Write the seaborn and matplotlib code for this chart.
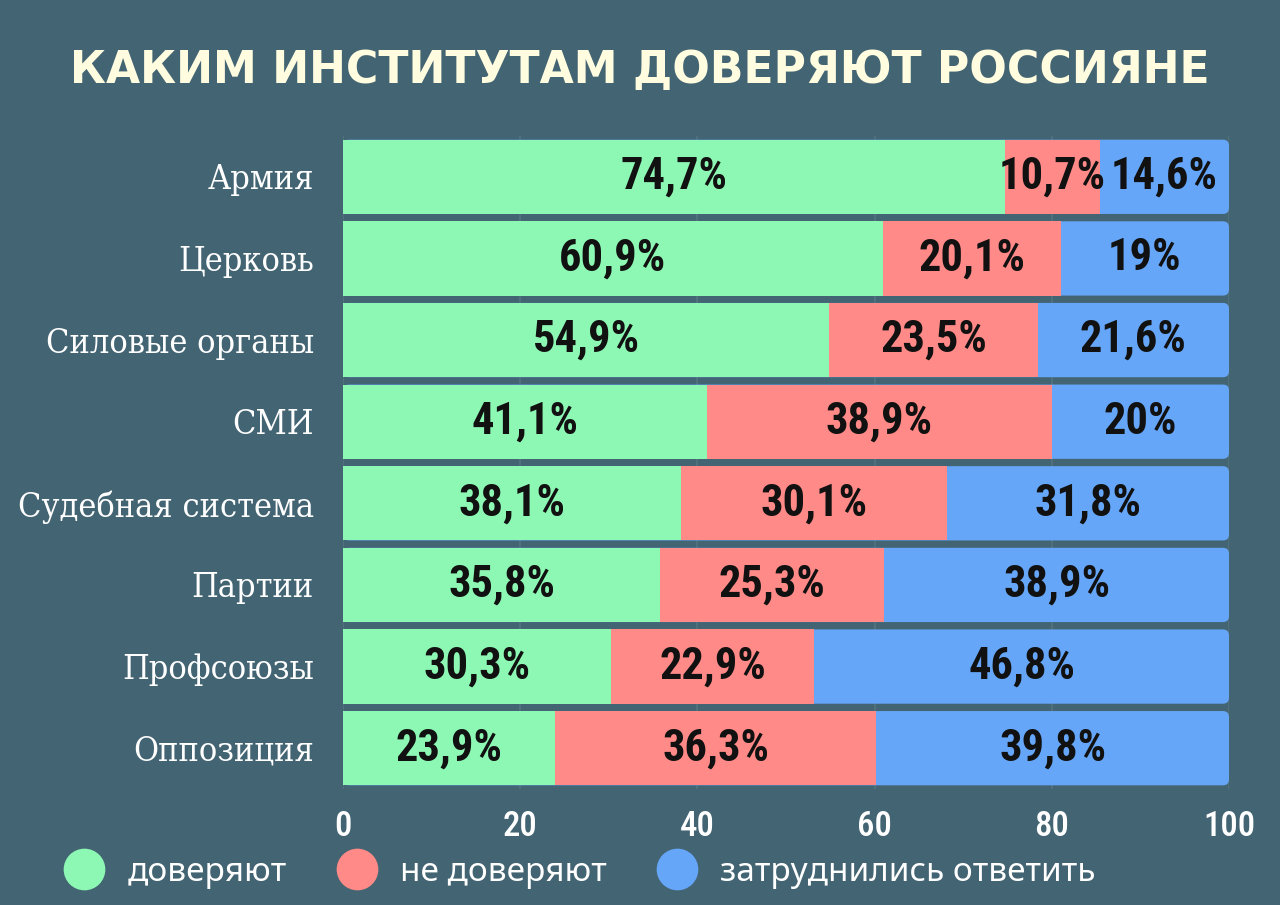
import os
import matplotlib
matplotlib.use("Agg")
import matplotlib.pyplot as plt
import seaborn as sns
import pandas as pd
from matplotlib.lines import Line2D
from matplotlib.patches import FancyBboxPatch
from matplotlib import font_manager as fm
from matplotlib.font_manager import FontProperties

categories = ['Армия', 'Церковь', 'Силовые органы', 'СМИ', 'Судебная система',
              'Партии', 'Профсоюзы', 'Оппозиция']
trust = [74.7, 60.9, 54.9, 41.1, 38.1, 35.8, 30.3, 23.9]
distrust = [10.7, 20.1, 23.5, 38.9, 30.1, 25.3, 22.9, 36.3]
undecided = [14.6, 19, 21.6, 20, 31.8, 38.9, 46.8, 39.8]
series_names = ['доверяют', 'не доверяют', 'затруднились ответить']
x_ticks = [0, 20, 40, 60, 80, 100]
title = 'КАКИМ ИНСТИТУТАМ ДОВЕРЯЮТ РОССИЯНЕ'

BG = '#436472'
GREEN = '#8DF8B4'
RED = '#FF8A87'
BLUE = '#66A6F8'
CREAM = '#FFFCE0'

sns.set_theme(style='white')
plt.rcParams['font.family'] = ['DejaVu Sans']

font_files = [f.fname for f in fm.fontManager.ttflist]


def find_font(patterns, fallback_family, weight='normal', stretch='normal'):
    for p in patterns:
        for fn in font_files:
            if os.path.basename(fn).lower().replace(' ', '').replace('_', '').replace('-', '') == p:
                return lambda size, fn=fn: FontProperties(fname=fn, size=size)
    return lambda size: FontProperties(family=fallback_family, weight=weight,
                                       stretch=stretch, size=size)


cond_bold = find_font(['robotocondensedbold.ttf', 'liberationsansnarrowbold.ttf',
                       'opensanscondensedbold.ttf', 'dejavusanscondensedbold.ttf'],
                      'DejaVu Sans', 'bold', 'condensed')
cond_reg = find_font(['robotocondensedmedium.ttf', 'robotocondensedregular.ttf',
                      'liberationsansnarrowregular.ttf', 'dejavusanscondensed.ttf'],
                     'DejaVu Sans', 'normal', 'condensed')
serif_cond = find_font(['dejavuserifcondensed.ttf'], 'DejaVu Serif', 'normal', 'condensed')

df = pd.DataFrame({'cat': categories, 'trust': trust, 'distrust': distrust, 'und': undecided})
df['c2'] = df['trust'] + df['distrust']
df['c3'] = df['c2'] + df['und']

fig = plt.figure(figsize=(12.8, 9.05), dpi=100, facecolor=BG)
ax_w, ax_h = (1229 - 343), (789 - 136)
ax = fig.add_axes([343 / 1280, 1 - 789 / 905, ax_w / 1280, ax_h / 905])
ax.set_facecolor(BG)

for xv in x_ticks:
    ax.axvline(xv, color='#53737f', lw=1.2, zorder=0)

w = 0.91
sns.barplot(data=df, x='c3', y='cat', orient='h', color=BLUE, width=w, ax=ax,
            saturation=1, linewidth=0, zorder=2)
n_blue = len(ax.patches)
sns.barplot(data=df, x='c2', y='cat', orient='h', color=RED, width=w, ax=ax,
            saturation=1, linewidth=0, zorder=3)
sns.barplot(data=df, x='trust', y='cat', orient='h', color=GREEN, width=w, ax=ax,
            saturation=1, linewidth=0, zorder=4)

ax.set_xlim(0, 100)
ax.set_ylim(len(categories) - 0.5, -0.5)

# round the outer (right) corners of the full-length bars
x_per_px = 100 / ax_w
y_per_px = len(categories) / ax_h
for p in list(ax.patches[:n_blue]):
    x0, y0 = p.get_x(), p.get_y()
    pw, ph = p.get_width(), p.get_height()
    p.set_visible(False)
    fb = FancyBboxPatch((x0, y0), pw, ph,
                        boxstyle='round,pad=0,rounding_size=%f' % (6 * x_per_px),
                        mutation_aspect=y_per_px / x_per_px,
                        facecolor=BLUE, edgecolor='none', zorder=2)
    ax.add_patch(fb)


def fmt(v):
    return ('%g' % v).replace('.', ',') + '%'


lab_fp = cond_bold(32)
for i in range(len(categories)):
    starts = [0, trust[i], trust[i] + distrust[i]]
    vals = [trust[i], distrust[i], undecided[i]]
    for s, v in zip(starts, vals):
        ax.text(s + v / 2, i, fmt(v), fontproperties=lab_fp, color='#111111',
                ha='center', va='center', zorder=5)

ax.set_xticks(x_ticks)
ax.set_xticklabels([str(t) for t in x_ticks])
for t in ax.get_xticklabels():
    t.set_fontproperties(cond_reg(25))
    t.set_color('white')
ax.set_yticks(range(len(categories)))
ax.set_yticklabels(categories)
for t in ax.get_yticklabels():
    t.set_fontproperties(serif_cond(24.5))
    t.set_color('white')
ax.tick_params(axis='x', length=0, pad=15)
ax.tick_params(axis='y', length=0, pad=21)
ax.set_xlabel('')
ax.set_ylabel('')
for sp in ax.spines.values():
    sp.set_visible(False)

fig.text(0.5, 1 - 71 / 905, title, ha='center', va='center', color=CREAM,
         fontsize=31.8, fontweight='heavy', family=['DejaVu Sans'])

handles = [Line2D([], [], marker='o', ls='', markersize=30, markerfacecolor=c,
                  markeredgewidth=0) for c in [GREEN, RED, BLUE]]
leg = fig.legend(handles, series_names, loc='center left',
                 bbox_to_anchor=(59 / 1280, 1 - 872 / 905),
                 ncol=3, frameon=False, borderpad=0, borderaxespad=0,
                 handletextpad=0.55, columnspacing=1.35, handlelength=1.5,
                 prop={'family': 'Noto Sans', 'size': 24})
for t in leg.get_texts():
    t.set_color('white')

fig.savefig('out.png', dpi=100, facecolor=BG)
